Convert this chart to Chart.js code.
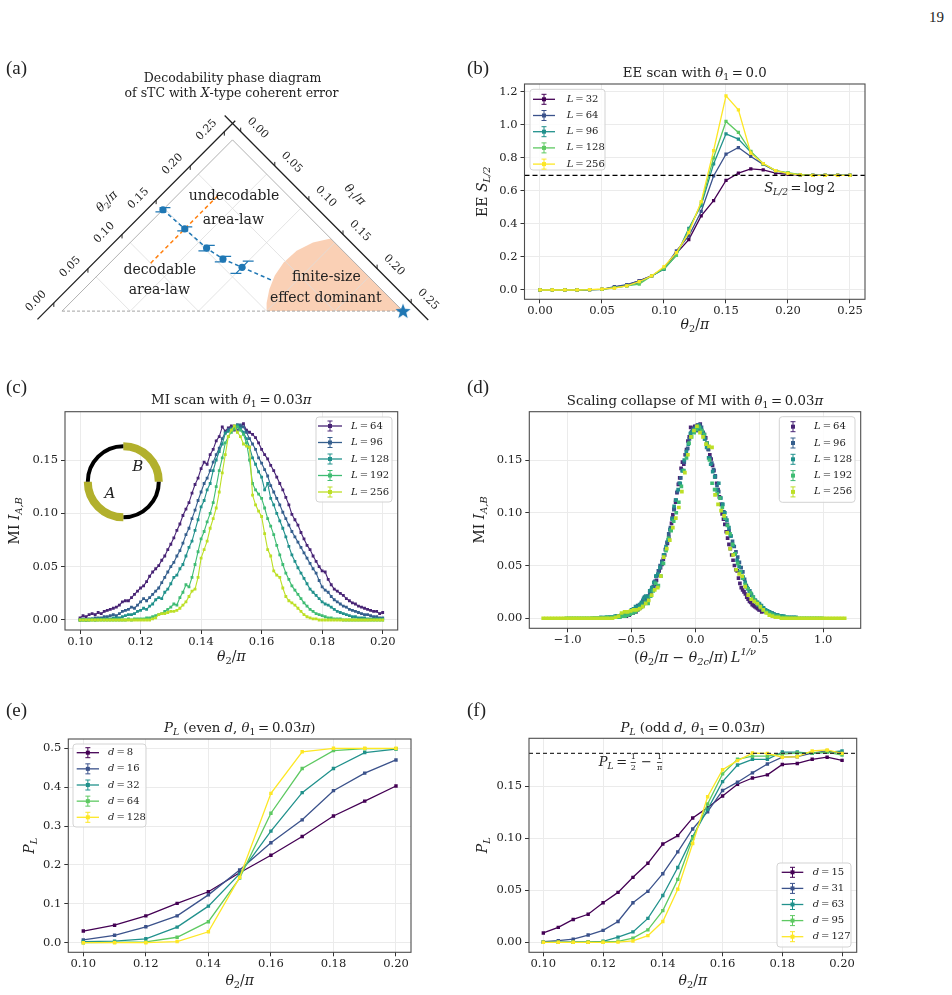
<!DOCTYPE html>
<html lang="en">
<head>
<meta charset="UTF-8">
<title>Decodability of sTC with coherent error</title>
<script src="https://cdn.jsdelivr.net/npm/chart.js"></script>
<style>
  body { margin: 0; background: #fff; }
  #page { position: relative; width: 952px; height: 995px; overflow: hidden; font-family: 'Liberation Serif', serif; color: #222; }
  .panel { position: absolute; }
  .tag { position: absolute; font-size: 19px; line-height: 20px; }
</style>
</head>
<body>
<div id="page">
  <div class="panel" id="boxA"><canvas></canvas></div>
  <div class="panel" id="boxB"><canvas></canvas></div>
  <div class="panel" id="boxC"><canvas></canvas></div>
  <div class="panel" id="boxD"><canvas></canvas></div>
  <div class="panel" id="boxE"><canvas></canvas></div>
  <div class="panel" id="boxF"><canvas></canvas></div>
  <div class="tag" style="left:929px;top:7px;font-size:15px">19</div>
  <div class="tag" style="left:6px;top:58px">(a)</div>
  <div class="tag" style="left:467px;top:58px">(b)</div>
  <div class="tag" style="left:6px;top:377px">(c)</div>
  <div class="tag" style="left:467px;top:377px">(d)</div>
  <div class="tag" style="left:6px;top:700px">(e)</div>
  <div class="tag" style="left:467px;top:700px">(f)</div>
</div>
<script>
// ---------- data ----------
// (a) phase diagram, coordinates in (theta1/pi, theta2/pi)
const phaseMax = 0.25;
const phaseTicks = [0, 0.05, 0.10, 0.15, 0.20, 0.25];
const phaseGrid = [0.05, 0.10, 0.15, 0.20];
const pointTheta1 = [0.00, 0.03, 0.06, 0.08, 0.10];
const pointTheta2 = [0.148, 0.150, 0.152, 0.156, 0.164];
const pointErr = [0.003, 0.003, 0.004, 0.004, 0.009];
const guideTheta1 = [0.00, 0.03, 0.06, 0.08, 0.10, 0.133];
const guideTheta2 = [0.148, 0.150, 0.152, 0.156, 0.164, 0.177];
const scanTheta1 = [0.03, 0.03];
const scanTheta2 = [0.10, 0.20];
const regionTheta1 = [0.15, 0.25, 0.144, 0.134, 0.128, 0.127, 0.130, 0.136, 0.144, 0.15];
const regionTheta2 = [0.15, 0.25, 0.25, 0.234, 0.216, 0.198, 0.182, 0.168, 0.156, 0.15];
const starTheta1 = [0.25];
const starTheta2 = [0.25];

// (b) EE scan, theta1 = 0
const eeSizes = [32, 64, 96, 128, 256];
const eeTheta2 = [0.00,0.01,0.02,0.03,0.04,0.05,0.06,0.07,0.08,0.09,0.10,0.11,0.12,0.13,0.14,0.15,0.16,0.17,0.18,0.19,0.20,0.21,0.22,0.23,0.24,0.25];
const eeL32  = [0,0,0,0,0.002,0.004,0.018,0.030,0.055,0.085,0.131,0.222,0.305,0.448,0.541,0.663,0.707,0.733,0.727,0.707,0.700,0.695,0.694,0.693,0.693,0.693];
const eeL64  = [0,0,0,0,0.002,0.004,0.020,0.033,0.055,0.085,0.130,0.236,0.327,0.475,0.690,0.822,0.862,0.808,0.760,0.720,0.705,0.697,0.694,0.693,0.693,0.693];
const eeL96  = [0,0,0,0,0.002,0.004,0.015,0.025,0.045,0.085,0.125,0.210,0.373,0.511,0.763,0.945,0.913,0.834,0.762,0.722,0.706,0.697,0.694,0.693,0.693,0.693];
const eeL128 = [0,0,0,0,0.002,0.004,0.013,0.025,0.036,0.085,0.130,0.210,0.363,0.525,0.800,1.020,0.953,0.838,0.765,0.722,0.710,0.698,0.694,0.693,0.693,0.693];
const eeL256 = [0,0,0,0,0.002,0.006,0.012,0.025,0.050,0.085,0.141,0.226,0.347,0.535,0.844,1.175,1.090,0.828,0.765,0.722,0.705,0.697,0.694,0.693,0.693,0.693];
const LOG2 = 0.693;

// (c) MI scan, theta1 = 0.03 pi
const miSizes = [64, 96, 128, 192, 256];
const miTheta2 = [
  0.100,0.101,0.102,0.103,0.104,0.105,0.106,0.107,0.108,0.109,
  0.110,0.111,0.112,0.113,0.114,0.115,0.116,0.117,0.118,0.119,
  0.120,0.121,0.122,0.123,0.124,0.125,0.126,0.127,0.128,0.129,
  0.130,0.131,0.132,0.133,0.134,0.135,0.136,0.137,0.138,0.139,
  0.140,0.141,0.142,0.143,0.144,0.145,0.146,0.147,0.148,0.149,
  0.150,0.151,0.152,0.153,0.154,0.155,0.156,0.157,0.158,0.159,
  0.160,0.161,0.162,0.163,0.164,0.165,0.166,0.167,0.168,0.169,
  0.170,0.171,0.172,0.173,0.174,0.175,0.176,0.177,0.178,0.179,
  0.180,0.181,0.182,0.183,0.184,0.185,0.186,0.187,0.188,0.189,
  0.190,0.191,0.192,0.193,0.194,0.195,0.196,0.197,0.198,0.199,0.200];
const miL64 = [
  0.002,0.004,0.003,0.005,0.006,0.005,0.007,0.006,0.008,0.009,
  0.010,0.011,0.012,0.014,0.017,0.018,0.018,0.021,0.024,0.027,
  0.030,0.032,0.036,0.041,0.045,0.048,0.051,0.056,0.060,0.066,
  0.071,0.077,0.084,0.090,0.098,0.104,0.110,0.119,0.127,0.133,
  0.142,0.148,0.146,0.155,0.160,0.168,0.172,0.181,0.177,0.180,
  0.182,0.178,0.183,0.181,0.184,0.178,0.176,0.174,0.171,0.166,
  0.160,0.155,0.151,0.145,0.140,0.134,0.128,0.122,0.115,0.108,
  0.099,0.094,0.089,0.082,0.076,0.070,0.066,0.060,0.055,0.050,
  0.046,0.045,0.038,0.033,0.029,0.027,0.025,0.023,0.020,0.018,
  0.016,0.015,0.013,0.012,0.011,0.010,0.009,0.008,0.008,0.006,0.007];
const miL96 = [
  0.000,0.001,0.000,0.001,0.001,0.002,0.002,0.002,0.003,0.003,
  0.004,0.005,0.004,0.006,0.008,0.009,0.010,0.012,0.011,0.014,
  0.017,0.020,0.018,0.021,0.024,0.027,0.030,0.035,0.040,0.045,
  0.050,0.054,0.060,0.065,0.072,0.080,0.086,0.095,0.103,0.112,
  0.120,0.128,0.133,0.140,0.148,0.155,0.161,0.170,0.176,0.179,
  0.180,0.182,0.178,0.183,0.181,0.176,0.170,0.165,0.160,0.152,
  0.147,0.141,0.135,0.126,0.120,0.114,0.108,0.101,0.095,0.089,
  0.083,0.078,0.073,0.068,0.063,0.058,0.053,0.048,0.044,0.037,
  0.031,0.028,0.026,0.022,0.019,0.017,0.015,0.013,0.012,0.010,
  0.009,0.008,0.007,0.006,0.005,0.005,0.004,0.003,0.003,0.002,0.002];
const miL128 = [
  0.000,0.000,0.000,0.000,0.001,0.000,0.001,0.001,0.001,0.001,
  0.001,0.002,0.002,0.002,0.003,0.004,0.005,0.005,0.006,0.008,
  0.009,0.011,0.010,0.013,0.015,0.019,0.021,0.020,0.026,0.029,
  0.034,0.040,0.042,0.048,0.052,0.060,0.068,0.074,0.084,0.094,
  0.106,0.112,0.122,0.128,0.140,0.150,0.158,0.165,0.175,0.177,
  0.179,0.181,0.183,0.180,0.176,0.170,0.162,0.152,0.146,0.139,
  0.134,0.122,0.128,0.114,0.108,0.100,0.093,0.086,0.078,0.069,
  0.061,0.055,0.049,0.044,0.039,0.034,0.029,0.026,0.023,0.020,
  0.017,0.015,0.014,0.012,0.010,0.008,0.007,0.006,0.005,0.004,
  0.003,0.003,0.002,0.002,0.002,0.001,0.001,0.001,0.001,0.001,0.001];
const miL192 = [
  0.000,0.000,0.000,0.000,0.000,0.000,0.000,0.000,0.000,0.000,
  0.000,0.000,0.000,0.000,0.000,0.000,0.001,0.000,0.001,0.001,
  0.001,0.001,0.002,0.002,0.003,0.004,0.005,0.006,0.008,0.010,
  0.012,0.015,0.014,0.021,0.026,0.033,0.031,0.040,0.052,0.064,
  0.076,0.083,0.092,0.100,0.110,0.125,0.140,0.152,0.166,0.172,
  0.176,0.179,0.181,0.178,0.174,0.166,0.150,0.128,0.122,0.118,
  0.114,0.105,0.095,0.088,0.080,0.070,0.061,0.052,0.044,0.038,
  0.032,0.028,0.024,0.020,0.016,0.013,0.010,0.008,0.006,0.005,
  0.004,0.003,0.002,0.002,0.001,0.001,0.001,0.000,0.000,0.000,
  0.000,0.000,0.000,0.000,0.000,0.000,0.000,0.000,0.000,0.000,0.000];
const miL256 = [
  0.000,0.000,0.000,0.000,0.000,0.000,0.000,0.000,0.000,0.000,
  0.000,0.000,0.000,0.000,0.000,0.000,0.000,0.000,0.000,0.000,
  0.000,0.000,0.000,0.000,0.001,0.002,0.005,0.006,0.006,0.007,
  0.008,0.008,0.009,0.011,0.014,0.017,0.022,0.027,0.029,0.040,
  0.058,0.066,0.074,0.086,0.095,0.105,0.120,0.138,0.155,0.172,
  0.178,0.182,0.176,0.172,0.165,0.163,0.162,0.117,0.108,0.102,
  0.097,0.081,0.066,0.060,0.046,0.042,0.040,0.030,0.022,0.018,
  0.016,0.014,0.011,0.008,0.005,0.003,0.002,0.001,0.001,0.000,
  0.000,0.000,0.000,0.000,0.000,0.000,0.000,0.000,0.000,0.000,
  0.000,0.000,0.000,0.000,0.000,0.000,0.000,0.000,0.000,0.000,0.000];

// (d) scaling collapse parameters
const collapseThetaC = 0.1505;
const collapseInvNu = 0.57;

// (e) P_L, even d
const evenSizes = [8, 16, 32, 64, 128];
const evenTheta2 = [0.10,0.11,0.12,0.13,0.14,0.15,0.16,0.17,0.18,0.19,0.20];
const evenD8   = [0.030,0.045,0.069,0.101,0.131,0.180,0.225,0.273,0.326,0.364,0.403];
const evenD16  = [0.007,0.019,0.041,0.069,0.123,0.187,0.257,0.316,0.391,0.436,0.470];
const evenD32  = [0.003,0.004,0.010,0.040,0.094,0.177,0.287,0.386,0.448,0.489,0.498];
const evenD64  = [0.000,0.001,0.002,0.014,0.054,0.166,0.333,0.448,0.494,0.499,0.499];
const evenD128 = [0.000,0.000,0.000,0.003,0.028,0.168,0.384,0.491,0.500,0.500,0.500];

// (f) P_L, odd d
const oddSizes = [15, 31, 63, 95, 127];
const oddTheta2 = [0.100,0.105,0.110,0.115,0.120,0.125,0.130,0.135,0.140,0.145,0.150,0.155,0.160,0.165,0.170,0.175,0.180,0.185,0.190,0.195,0.200];
const oddD15  = [0.0090,0.0144,0.0220,0.0270,0.0380,0.0480,0.0625,0.0760,0.0945,0.1026,0.1196,0.1295,0.1407,0.1520,0.1580,0.1610,0.1710,0.1720,0.1760,0.1780,0.1750];
const oddD31  = [0.0006,0.0016,0.0030,0.0070,0.0115,0.0200,0.0380,0.0490,0.0660,0.0870,0.1090,0.1256,0.1460,0.1540,0.1630,0.1715,0.1780,0.1785,0.1820,0.1840,0.1820];
const oddD63  = [0.0002,0.0002,0.0003,0.0005,0.0010,0.0050,0.0100,0.0230,0.0450,0.0720,0.1016,0.1280,0.1545,0.1705,0.1760,0.1760,0.1830,0.1830,0.1817,0.1827,0.1840];
const oddD95  = [0.0000,0.0000,0.0000,0.0001,0.0003,0.0010,0.0040,0.0120,0.0305,0.0605,0.1000,0.1330,0.1620,0.1760,0.1790,0.1790,0.1810,0.1820,0.1820,0.1830,0.1800];
const oddD127 = [0.0000,0.0000,0.0000,0.0000,0.0000,0.0002,0.0013,0.0064,0.0200,0.0510,0.0950,0.1400,0.1660,0.1747,0.1820,0.1817,0.1780,0.1785,0.1840,0.1850,0.1817];
const PL_LIMIT = 0.5 - 1 / Math.PI;

// ---------- styling ----------
const VIR = ['#440154', '#3b528b', '#21918c', '#5ec962', '#fde725'];
const VIR_C = ['#482475', '#355f8d', '#21918c', '#3fbc73', '#bddf26'];
const BLUE = '#1f77b4', ORANGE = '#ff7f0e';
const TS = '\u2009', EQ = '\u2009=\u2009';

// rich text pieces: roman, italic, subscripts, superscript, fraction
function R(t) { return { t }; }
function I(t) { return { t, i: true }; }
function Sb(t) { return { t, i: true, s: 0.7, dy: 0.3 }; }
function Sr(t) { return { t, s: 0.7, dy: 0.3 }; }
function Sp(t) { return { t, i: true, s: 0.7, dy: -0.4 }; }
function Fr(n, d) { return { frac: [n, d] }; }
const TH2PI = [I('θ'), Sr('2'), R('/'), I('π')];
const TH1PI = [I('θ'), Sr('1'), R('/'), I('π')];

function segFont(sg, size) {
  return (sg.i ? 'italic ' : '') + (size * (sg.s || 1)).toFixed(2) + 'px "DejaVu Serif"';
}
function segWidth(c, sg, size) {
  if (sg.frac) {
    c.font = segFont({ s: 0.62 }, size);
    return Math.max(c.measureText(sg.frac[0]).width, c.measureText(sg.frac[1]).width) + 2;
  }
  c.font = segFont(sg, size);
  return c.measureText(sg.t).width;
}
function drawRich(c, segs, x, y, size, align, rot) {
  c.save();
  c.translate(x, y);
  if (rot) c.rotate(rot);
  const w = segs.reduce((a, s) => a + segWidth(c, s, size), 0);
  let cx = align === 'left' ? 0 : align === 'right' ? -w : -w / 2;
  c.textBaseline = 'middle';
  c.fillStyle = '#222';
  segs.forEach(sg => {
    const sw = segWidth(c, sg, size);
    if (sg.frac) {
      c.font = segFont({ s: 0.62 }, size);
      c.textAlign = 'center';
      c.fillText(sg.frac[0], cx + sw / 2, -size * 0.42);
      c.fillText(sg.frac[1], cx + sw / 2, size * 0.42);
      c.fillRect(cx + 1, -0.5, sw - 2, 0.8);
    } else {
      c.font = segFont(sg, size);
      c.textAlign = 'left';
      c.fillText(sg.t, cx, (sg.dy || 0) * size);
    }
    cx += sw;
  });
  c.restore();
}

function drawLegend(c, lg, box) {
  c.save();
  c.beginPath();
  c.roundRect(lg.x0 - box.x, lg.y0 - box.y, lg.x1 - lg.x0, lg.y1 - lg.y0, 3);
  c.fillStyle = 'rgba(255,255,255,0.85)';
  c.fill();
  c.strokeStyle = '#d3d3d3';
  c.lineWidth = 1;
  c.stroke();
  lg.items.forEach((it, i) => {
    const y = lg.row0 + i * lg.step - box.y;
    const mx = (lg.lx0 + lg.lx1) / 2 - box.x;
    c.strokeStyle = it.color;
    c.fillStyle = it.color;
    if (lg.line) {
      c.lineWidth = 1.3;
      c.beginPath(); c.moveTo(lg.lx0 - box.x, y); c.lineTo(lg.lx1 - box.x, y); c.stroke();
    }
    c.lineWidth = 1;
    c.beginPath();
    c.moveTo(mx, y - 5); c.lineTo(mx, y + 5);
    c.moveTo(mx - 2.5, y - 5); c.lineTo(mx + 2.5, y - 5);
    c.moveTo(mx - 2.5, y + 5); c.lineTo(mx + 2.5, y + 5);
    c.stroke();
    c.fillRect(mx - 2, y - 2, 4, 4);
    drawRich(c, it.segs, lg.tx - box.x, y, 10, 'left', 0);
  });
  c.restore();
}

function drawRing(c, r, box) {
  const cx = r.x - box.x, cy = r.y - box.y;
  const arcs = [[-90, 0, r.olive, 8], [0, 90, '#000', 4], [90, 180, r.olive, 8], [180, 270, '#000', 4]];
  c.save();
  c.lineCap = 'butt';
  arcs.forEach(([a0, a1, col, w]) => {
    c.beginPath();
    c.arc(cx, cy, r.rad, a0 * Math.PI / 180, a1 * Math.PI / 180);
    c.strokeStyle = col;
    c.lineWidth = w;
    c.stroke();
  });
  c.restore();
}

function decoPlugin(box, cfg) {
  return {
    id: 'deco',
    afterDatasetsDraw(chart) {
      if (cfg.frame === false) return;
      const a = chart.chartArea, c = chart.ctx;
      c.save();
      c.strokeStyle = '#4d4d4d';
      c.lineWidth = 1.1;
      c.strokeRect(a.left, a.top, a.right - a.left, a.bottom - a.top);
      c.restore();
    },
    afterDraw(chart) {
      const c = chart.ctx;
      if (cfg.ring) drawRing(c, cfg.ring, box);
      if (cfg.legend) drawLegend(c, cfg.legend, box);
      if (cfg.extra) cfg.extra(chart);
      (cfg.texts || []).forEach(t =>
        drawRich(c, t.segs, t.x - box.x, t.y - box.y, t.size || 14, t.align || 'center', t.rot || 0));
    }
  };
}

function placeBox(id, box) {
  const host = document.getElementById(id);
  Object.assign(host.style, { left: box.x + 'px', top: box.y + 'px', width: box.w + 'px', height: box.h + 'px' });
  return host.querySelector('canvas');
}

function xy(xs, ys) { return xs.map((x, i) => ({ x, y: ys[i] })); }

function lineSet(xs, ys, color, k, radius) {
  return {
    data: xy(xs, ys), showLine: true, borderColor: color, backgroundColor: color,
    borderWidth: 1.3, pointStyle: 'rect', pointRadius: radius || 2.3, pointBorderWidth: 0, order: -k
  };
}

function makePanel(id, box, frame, xAx, yAx, datasets, cfg) {
  const canvas = placeBox(id, box);
  const axis = (ax, horiz) => ({
    type: 'linear', min: ax.min, max: ax.max,
    afterBuildTicks: s => { s.ticks = ax.ticks.map(v => ({ value: v })); },
    afterFit: s => { if (horiz) s.height = box.y + box.h - frame.b; else s.width = frame.l - box.x; },
    grid: { color: '#ebebeb', lineWidth: 1, tickLength: 4, tickColor: '#333', tickWidth: 1 },
    border: { display: false },
    ticks: {
      autoSkip: false, maxRotation: 0, padding: horiz ? 1 : 3, color: '#222',
      font: { family: 'DejaVu Serif', size: 11.5 },
      callback: (v, i) => ax.labels ? ax.labels[i] : Number(v).toFixed(ax.dec)
    }
  });
  return new Chart(canvas, {
    type: 'scatter',
    data: { datasets },
    options: {
      animation: false, responsive: true, maintainAspectRatio: false, events: [],
      layout: { padding: { left: 0, top: frame.t - box.y, right: box.x + box.w - frame.r, bottom: 0 } },
      plugins: { legend: { display: false }, tooltip: { enabled: false } },
      scales: { x: axis(xAx, true), y: axis(yAx, false) }
    },
    plugins: [decoPlugin(box, cfg)]
  });
}

function legendItems(sizes, colors, letter) {
  return sizes.map((n, i) => ({ color: colors[i], segs: [I(letter), R(EQ + n)] }));
}

// ---------- (a) phase diagram ----------
function tern(t1, t2) { return { x: t1 + t2, y: t2 - t1 }; }
const GAP = { x: NaN, y: NaN };
const axisGap = 0.012;

function starMark(size, color) {
  const cv = document.createElement('canvas');
  cv.width = cv.height = size;
  const c = cv.getContext('2d');
  c.fillStyle = color;
  c.beginPath();
  for (let k = 0; k < 10; k++) {
    const r = k % 2 ? size * 0.21 : size * 0.5;
    const a = -Math.PI / 2 + k * Math.PI / 5;
    c.lineTo(size / 2 + r * Math.cos(a), size / 2 + 0.5 + r * Math.sin(a));
  }
  c.closePath();
  c.fill();
  return cv;
}

(function () {
  const box = { x: 0, y: 58, w: 470, h: 290 };
  const canvas = placeBox('boxA', box);
  const gridPts = [];
  phaseGrid.forEach(v => {
    gridPts.push(tern(v, v), tern(v, phaseMax), GAP);
    gridPts.push(tern(0, v), tern(v, v), GAP);
  });
  const errPts = [];
  pointTheta1.forEach((t1, i) => {
    const t2 = pointTheta2[i], e = pointErr[i];
    errPts.push(tern(t1, t2 - e), tern(t1, t2 + e), GAP);
    errPts.push(tern(t1 - 0.004, t2 - e - 0.004), tern(t1 + 0.004, t2 - e + 0.004), GAP);
    errPts.push(tern(t1 - 0.004, t2 + e - 0.004), tern(t1 + 0.004, t2 + e + 0.004), GAP);
  });
  const datasets = [
    { data: regionTheta1.map((t, i) => tern(t, regionTheta2[i])), showLine: true, fill: 'shape',
      backgroundColor: 'rgba(243,150,90,0.45)', borderWidth: 0, pointRadius: 0, order: 10 },
    { data: gridPts, showLine: true, borderColor: '#dddddd', borderWidth: 0.8, pointRadius: 0, order: 9 },
    { data: [tern(0, 0), tern(0, phaseMax), tern(phaseMax, phaseMax)], showLine: true,
      borderColor: '#a8a8a8', borderWidth: 0.9, pointRadius: 0, order: 8 },
    { data: [tern(0, 0), tern(phaseMax, phaseMax)], showLine: true, borderColor: '#999',
      borderWidth: 0.9, borderDash: [3, 2], pointRadius: 0, order: 8 },
    { data: [tern(-axisGap, -0.024), tern(-axisGap, 0.266), GAP, tern(-0.0235, phaseMax + axisGap), tern(0.275, phaseMax + axisGap)],
      showLine: true, borderColor: '#222', borderWidth: 1.3, pointRadius: 0, order: 7 },
    { data: scanTheta1.map((t, i) => tern(t, scanTheta2[i])), showLine: true, borderColor: ORANGE,
      borderWidth: 1.5, borderDash: [4, 3], pointRadius: 0, order: 6 },
    { data: guideTheta1.map((t, i) => tern(t, guideTheta2[i])), showLine: true, borderColor: BLUE,
      borderWidth: 1.5, borderDash: [4, 3], pointRadius: 0, order: 5 },
    { data: errPts, showLine: true, borderColor: BLUE, borderWidth: 1.2, pointRadius: 0, order: 4 },
    { data: pointTheta1.map((t, i) => tern(t, pointTheta2[i])), showLine: false, pointRadius: 3.6,
      backgroundColor: BLUE, borderColor: BLUE, pointBorderWidth: 0, order: 3 },
    { data: starTheta1.map((t, i) => tern(t, starTheta2[i])), showLine: false,
      pointStyle: starMark(16, BLUE), pointRadius: 8, order: 2 }
  ];
  const drawAxes = chart => {
    const sx = chart.scales.x, sy = chart.scales.y, c = chart.ctx;
    const px = (t1, t2) => [sx.getPixelForValue(t1 + t2), sy.getPixelForValue(t2 - t1)];
    c.save();
    c.strokeStyle = '#222';
    c.lineWidth = 1;
    phaseTicks.forEach(v => {
      let [x, y] = px(-axisGap, v);
      c.beginPath(); c.moveTo(x, y); c.lineTo(x, y + 4); c.stroke();
      drawRich(c, [R(v.toFixed(2))], x - 17.7, y - 1.7, 11, 'center', -Math.PI / 4);
      [x, y] = px(v, phaseMax + axisGap);
      c.beginPath(); c.moveTo(x, y); c.lineTo(x, y - 4); c.stroke();
      drawRich(c, [R(v.toFixed(2))], x + 17, y - 3.5, 11, 'center', Math.PI / 4);
    });
    let [x, y] = px(-axisGap, 0.113);
    drawRich(c, TH2PI, x - 23.7, y - 23.9, 12, 'center', -Math.PI / 4);
    [x, y] = px(0.1295, phaseMax + axisGap);
    drawRich(c, TH1PI, x + 25.7, y - 25.5, 12, 'center', Math.PI / 4);
    c.restore();
  };
  new Chart(canvas, {
    type: 'scatter',
    data: { datasets },
    options: {
      animation: false, responsive: true, maintainAspectRatio: false, events: [],
      layout: { padding: { left: 20, right: 20, top: 52, bottom: 8 } },
      plugins: { legend: { display: false }, tooltip: { enabled: false } },
      scales: {
        x: { type: 'linear', display: false, min: -0.0616, max: 0.5689 },
        y: { type: 'linear', display: false, min: -0.0407, max: 0.2936 }
      }
    },
    plugins: [decoPlugin(box, {
      frame: false, extra: drawAxes,
      texts: [
        { x: 232.5, y: 78.3, size: 12.5, segs: [R('Decodability phase diagram')] },
        { x: 231.5, y: 93.3, size: 12.5, segs: [R('of sTC with '), I('X'), R('-type coherent error')] },
        { x: 234, y: 196.7, size: 14, segs: [R('undecodable')] },
        { x: 233.3, y: 220, size: 14, segs: [R('area-law')] },
        { x: 159.7, y: 270, size: 14, segs: [R('decodable')] },
        { x: 159.3, y: 290.7, size: 14, segs: [R('area-law')] },
        { x: 326.3, y: 277.7, size: 14, segs: [R('finite-size')] },
        { x: 325.8, y: 298.3, size: 14, segs: [R('effect dominant')] }
      ]
    })]
  });
})();

// ---------- (b) EE scan ----------
(function () {
  const box = { x: 470, y: 58, w: 482, h: 290 };
  const frame = { l: 524.5, t: 84, r: 865, b: 299.3 };
  const series = [eeL32, eeL64, eeL96, eeL128, eeL256];
  const datasets = series.map((s, k) => lineSet(eeTheta2, s, VIR[k], k, 2.3));
  datasets.push({ data: [{ x: -0.0125, y: LOG2 }, { x: 0.2621, y: LOG2 }], showLine: true,
    borderColor: '#000', borderWidth: 1.3, borderDash: [5, 3], pointRadius: 0, order: -10 });
  makePanel('boxB', box, frame,
    { min: -0.0125, max: 0.2621, ticks: [0, 0.05, 0.10, 0.15, 0.20, 0.25], dec: 2 },
    { min: -0.0563, max: 1.2464, ticks: [0, 0.2, 0.4, 0.6, 0.8, 1.0, 1.2], dec: 1 },
    datasets, {
      legend: { x0: 530, y0: 89.3, x1: 605, y1: 170, lx0: 533, lx1: 555, tx: 566.7, row0: 99.3, step: 16.2, line: true,
        items: legendItems(eeSizes, VIR, 'L') },
      texts: [
        { x: 694.8, y: 74, size: 13.3, segs: [R('EE scan with '), I('θ'), Sr('1'), R(EQ + '0.0')] },
        { x: 483, y: 191.7, size: 14, rot: -Math.PI / 2, segs: [R('EE '), I('S'), Sb('L/2')] },
        { x: 694.8, y: 325, size: 14, segs: TH2PI },
        { x: 799.7, y: 188.3, size: 13, segs: [I('S'), Sb('L/2'), R(EQ + 'log' + TS + '2')] }
      ]
    });
})();

// ---------- (c) MI scan ----------
(function () {
  const box = { x: 0, y: 370, w: 470, h: 300 };
  const frame = { l: 65, t: 411.7, r: 397.7, b: 630 };
  const series = [miL64, miL96, miL128, miL192, miL256];
  const datasets = series.map((s, k) => {
    const d = lineSet(miTheta2, s, VIR_C[k], k, 2.0);
    d.borderWidth = 1.1;
    return d;
  });
  makePanel('boxC', box, frame,
    { min: 0.09504, max: 0.20496, ticks: [0.10, 0.12, 0.14, 0.16, 0.18, 0.20], dec: 2 },
    { min: -0.0094, max: 0.1953, ticks: [0, 0.05, 0.10, 0.15], dec: 2 },
    datasets, {
      ring: { x: 123.3, y: 481.7, rad: 35.5, olive: '#b2b02c' },
      legend: { x0: 316, y0: 417, x1: 392, y1: 502, lx0: 318, lx1: 342, tx: 351, row0: 426, step: 16.5, line: true,
        items: legendItems(miSizes, VIR_C, 'L') },
      texts: [
        { x: 231.3, y: 400.7, size: 13.3, segs: [R('MI scan with '), I('θ'), Sr('1'), R(EQ + '0.03'), I('π')] },
        { x: 15, y: 520.8, size: 14, rot: -Math.PI / 2, segs: [R('MI '), I('I'), Sb('A,B')] },
        { x: 231.3, y: 657, size: 14, segs: TH2PI },
        { x: 110, y: 494, size: 15, segs: [I('A')] },
        { x: 137.7, y: 466.7, size: 15, segs: [I('B')] }
      ]
    });
})();

// ---------- (d) scaling collapse: same MI data on (theta2 - theta2c) L^(1/nu) ----------
(function () {
  const box = { x: 470, y: 370, w: 482, h: 300 };
  const frame = { l: 529.3, t: 411.7, r: 860.7, b: 628.3 };
  const series = [miL64, miL96, miL128, miL192, miL256];
  const datasets = series.map((s, k) => {
    const f = Math.pow(miSizes[k], collapseInvNu);
    const xs = miTheta2.map(t => (t - collapseThetaC) * f);
    return { data: xy(xs, s), showLine: false, backgroundColor: VIR_C[k], borderColor: VIR_C[k],
      pointStyle: 'rect', pointRadius: 2.6, pointBorderWidth: 0, order: -k };
  });
  makePanel('boxD', box, frame,
    { min: -1.30, max: 1.293, ticks: [-1, -0.5, 0, 0.5, 1], labels: ['\u22121.0', '\u22120.5', '0.0', '0.5', '1.0'] },
    { min: -0.0095, max: 0.1958, ticks: [0, 0.05, 0.10, 0.15], dec: 2 },
    datasets, {
      legend: { x0: 779.3, y0: 416.7, x1: 855, y1: 502.3, lx0: 782, lx1: 804, tx: 814, row0: 426.7, step: 16.3, line: false,
        items: legendItems(miSizes, VIR_C, 'L') },
      texts: [
        { x: 695, y: 401.7, size: 13.3, segs: [R('Scaling collapse of MI with '), I('θ'), Sr('1'), R(EQ + '0.03'), I('π')] },
        { x: 480, y: 520, size: 14, rot: -Math.PI / 2, segs: [R('MI '), I('I'), Sb('A,B')] },
        { x: 695, y: 658, size: 14, segs: [R('('), I('θ'), Sr('2'), R('/'), I('π'), R(' \u2212 '), I('θ'), Sb('2c'), R('/'), I('π'), R(')' + TS), I('L'), Sp('1/ν')] }
      ]
    });
})();

// ---------- (e) P_L even d ----------
(function () {
  const box = { x: 0, y: 670, w: 470, h: 325 };
  const frame = { l: 68.3, t: 739, r: 411, b: 952.3 };
  const series = [evenD8, evenD16, evenD32, evenD64, evenD128];
  const datasets = series.map((s, k) => lineSet(evenTheta2, s, VIR[k], k, 2.4));
  makePanel('boxE', box, frame,
    { min: 0.0952, max: 0.2048, ticks: [0.10, 0.12, 0.14, 0.16, 0.18, 0.20], dec: 2 },
    { min: -0.0247, max: 0.5239, ticks: [0, 0.1, 0.2, 0.3, 0.4, 0.5], dec: 1 },
    datasets, {
      legend: { x0: 73, y0: 744, x1: 146, y1: 827, lx0: 76.7, lx1: 99, tx: 108, row0: 752.7, step: 16.15, line: true,
        items: legendItems(evenSizes, VIR, 'd') },
      texts: [
        { x: 239.7, y: 728.3, size: 13.3, segs: [I('P'), Sb('L'), R(' (even '), I('d'), R(', '), I('θ'), Sr('1'), R(EQ + '0.03'), I('π'), R(')')] },
        { x: 30.7, y: 845.7, size: 14, rot: -Math.PI / 2, segs: [I('P'), Sb('L')] },
        { x: 239.7, y: 981.7, size: 14, segs: TH2PI }
      ]
    });
})();

// ---------- (f) P_L odd d ----------
(function () {
  const box = { x: 470, y: 670, w: 482, h: 325 };
  const frame = { l: 529, t: 738.3, r: 856.7, b: 952.3 };
  const series = [oddD15, oddD31, oddD63, oddD95, oddD127];
  const datasets = series.map((s, k) => lineSet(oddTheta2, s, VIR[k], k, 2.4));
  datasets.push({ data: [{ x: 0.0952, y: PL_LIMIT }, { x: 0.2049, y: PL_LIMIT }], showLine: true,
    borderColor: '#333', borderWidth: 1.2, borderDash: [4, 3], pointRadius: 0, order: -10 });
  makePanel('boxF', box, frame,
    { min: 0.0952, max: 0.2049, ticks: [0.10, 0.12, 0.14, 0.16, 0.18, 0.20], dec: 2 },
    { min: -0.0096, max: 0.1962, ticks: [0, 0.05, 0.10, 0.15], dec: 2 },
    datasets, {
      legend: { x0: 777, y0: 863, x1: 851, y1: 947, lx0: 781.7, lx1: 803.3, tx: 812.7, row0: 872.3, step: 16.1, line: true,
        items: legendItems(oddSizes, VIR, 'd') },
      texts: [
        { x: 692.8, y: 728.3, size: 13.3, segs: [I('P'), Sb('L'), R(' (odd '), I('d'), R(', '), I('θ'), Sr('1'), R(EQ + '0.03'), I('π'), R(')')] },
        { x: 483.3, y: 845.3, size: 14, rot: -Math.PI / 2, segs: [I('P'), Sb('L')] },
        { x: 692.8, y: 981.7, size: 14, segs: TH2PI },
        { x: 631, y: 762.7, size: 13, segs: [I('P'), Sb('L'), R(EQ), Fr('1', '2'), R(' \u2212 '), Fr('1', 'π')] }
      ]
    });
})();
</script>
</body>
</html>
